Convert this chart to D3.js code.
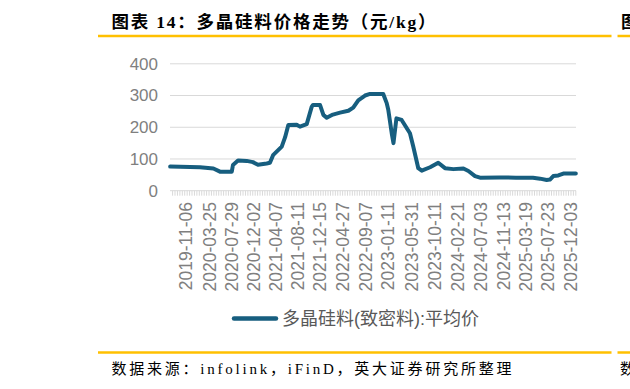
<!DOCTYPE html>
<meta charset="utf-8">
<style>
  body { margin: 0; background: #fff; }
  svg { display: block; overflow: hidden; }
  .ylab { font-family: "Liberation Sans", Arial, sans-serif; font-size: 17px; fill: #7f7f7f; }
  .xlab { font-family: "Liberation Sans", Arial, sans-serif; font-size: 17.5px; fill: #7f7f7f; }
</style>
<body>
<div id="chart"></div>
<script src="https://d3js.org/d3.v7.min.js"></script>
<script>
  // weekly avg price of dense polysilicon (yuan/kg)
  var dates = [
    "2019-08-07", "2020-01-26", "2020-04-12", "2020-05-20", "2020-07-27", "2020-08-03",
    "2020-09-01", "2020-10-21", "2020-11-26", "2020-12-25", "2021-02-13", "2021-03-04",
    "2021-03-22", "2021-05-11", "2021-05-30", "2021-06-18", "2021-08-05", "2021-08-24",
    "2021-10-02", "2021-10-31", "2021-11-07", "2021-12-18", "2022-01-06", "2022-01-25",
    "2022-03-02", "2022-04-12", "2022-05-30", "2022-06-27", "2022-07-26", "2022-09-03",
    "2022-10-02", "2022-12-17", "2023-01-06", "2023-01-15", "2023-02-04", "2023-02-14",
    "2023-03-03", "2023-04-02", "2023-05-20", "2023-06-08", "2023-07-07", "2023-07-27",
    "2023-09-13", "2023-10-30", "2023-12-08", "2024-01-25", "2024-03-23", "2024-04-21",
    "2024-05-29", "2024-06-27", "2024-10-15", "2025-01-20", "2025-04-28", "2025-06-08",
    "2025-07-16", "2025-08-04", "2025-08-23", "2025-09-21", "2025-10-20", "2025-12-31"
  ];
  var prices = [
    76, 74, 70, 60, 60, 81,
    95, 94, 90, 82, 86, 88,
    112, 139, 168, 207, 208, 202,
    210, 265, 270, 270, 239, 230,
    240, 246, 252, 262, 285, 300,
    305, 305, 276, 255, 181, 150,
    228, 223, 181, 139, 71, 63,
    74, 88, 71, 68, 70, 62,
    46, 41, 42, 41, 41, 38,
    34, 35, 46, 48, 54, 54
  ];
  var tickLabels = [
    "2019-11-06", "2020-03-25", "2020-07-29", "2020-12-02", "2021-04-07", "2021-08-11",
    "2021-12-15", "2022-04-27", "2022-09-07", "2023-01-11", "2023-05-31", "2023-10-11",
    "2024-02-21", "2024-07-03", "2024-11-13", "2025-03-19", "2025-07-23", "2025-12-03"
  ];
  var yTicks = [0, 100, 200, 300, 400];
  var seriesName = "多晶硅料(致密料):平均价";
  var title = "图表 14：多晶硅料价格走势（元/kg）";
  var source = "数据来源：infolink，iFinD，英大证券研究所整理";

  var W = 630, H = 389;
  var plot = { left: 170, right: 576, top: 63.8, bottom: 190.7 };
  var parse = d3.timeParse("%Y-%m-%d");
  var data = dates.map(function (d, i) { return { date: parse(d), value: prices[i] }; });

  var svg = d3.select("#chart").append("svg")
    .attr("width", W)
    .attr("height", H);

  // header / footer frame
  svg.append("text")
    .attr("x", 111.5).attr("y", 28)
    .attr("textLength", 324).attr("lengthAdjust", "spacing")
    .style("font-family", "'Liberation Serif', 'Noto Sans CJK SC', serif")
    .style("font-size", "17.5px").style("font-weight", "bold")
    .text(title);
  svg.append("text")
    .attr("x", 621).attr("y", 28)
    .style("font-family", "'Noto Sans CJK SC', sans-serif")
    .style("font-size", "17.5px").style("font-weight", "bold")
    .text("图表");
  [[98, 611.5], [617.5, 640]].forEach(function (s) {
    svg.append("line").attr("x1", s[0]).attr("x2", s[1]).attr("y1", 36).attr("y2", 36)
      .style("stroke", "#ffc000").style("stroke-width", 2.5);
    svg.append("line").attr("x1", s[0]).attr("x2", s[1]).attr("y1", 352.5).attr("y2", 352.5)
      .style("stroke", "#ffc000").style("stroke-width", 2.5);
  });
  svg.append("text")
    .attr("x", 111.5).attr("y", 374)
    .attr("textLength", 400).attr("lengthAdjust", "spacing")
    .style("font-family", "'Liberation Serif', 'Noto Sans CJK SC', serif")
    .style("font-size", "15px")
    .text(source);
  svg.append("text")
    .attr("x", 620).attr("y", 374)
    .style("font-family", "'Noto Sans CJK SC', sans-serif")
    .style("font-size", "15px")
    .text("数据");

  var x = d3.scaleTime()
    .domain([parse("2019-08-06"), parse("2026-01-01")])
    .range([plot.left, plot.right]);
  var y = d3.scaleLinear()
    .domain([0, 400])
    .range([plot.bottom, plot.top]);

  // grid
  svg.append("g").selectAll("line")
    .data(yTicks.filter(function (d) { return d > 0; }))
    .enter().append("line")
    .attr("x1", plot.left).attr("x2", plot.right)
    .attr("y1", function (d) { return y(d); })
    .attr("y2", function (d) { return y(d); })
    .style("stroke", "#d9d9d9").style("stroke-width", 1);

  // y labels
  svg.append("g").selectAll("text")
    .data(yTicks)
    .enter().append("text")
    .attr("class", "ylab")
    .attr("x", 158)
    .attr("y", function (d) { return y(d); })
    .attr("dy", "0.35em")
    .attr("text-anchor", "end")
    .text(function (d) { return d; });

  // x axis with minor ticks
  var xAxis = d3.axisBottom(x)
    .ticks(d3.timeWeek.every(2))
    .tickSize(5)
    .tickFormat("");
  var gx = svg.append("g")
    .attr("transform", "translate(0," + plot.bottom + ")")
    .call(xAxis);
  gx.select(".domain").attr("d", "M" + plot.left + ",0H" + plot.right)
    .style("stroke", "#d9d9d9");
  gx.selectAll(".tick line").style("stroke", "#d9d9d9");

  svg.append("g").selectAll("text")
    .data(tickLabels)
    .enter().append("text")
    .attr("class", "xlab")
    .attr("text-anchor", "end")
    .attr("dy", "0.35em")
    .attr("transform", function (d) {
      return "translate(" + x(parse(d)) + "," + 202 + ") rotate(-90)";
    })
    .text(function (d) { return d; });

  // series
  var line = d3.line()
    .x(function (d) { return x(d.date); })
    .y(function (d) { return y(d.value); });
  svg.append("path")
    .datum(data)
    .attr("d", line)
    .style("fill", "none")
    .style("stroke", "#175e7f")
    .style("stroke-width", 4)
    .style("stroke-linejoin", "round")
    .style("stroke-linecap", "round");

  // legend
  var lg = svg.append("g");
  lg.append("line")
    .attr("x1", 234).attr("x2", 276).attr("y1", 318.5).attr("y2", 318.5)
    .style("stroke", "#175e7f").style("stroke-width", 4.5)
    .style("stroke-linecap", "round");
  lg.append("text")
    .attr("x", 282).attr("y", 318.5).attr("dy", "0.35em")
    .style("font-family", "'Liberation Sans', 'Noto Sans CJK SC', sans-serif")
    .style("font-size", "18px").style("fill", "#595959")
    .text(seriesName);
</script>
</body>
